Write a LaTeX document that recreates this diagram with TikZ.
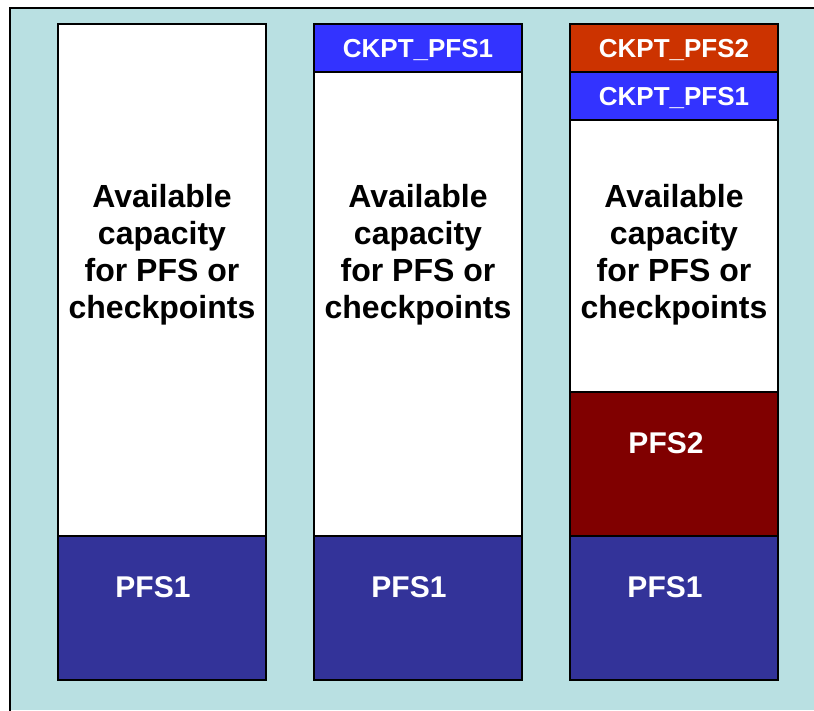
\documentclass[tikz,border=0pt]{standalone}
\usepackage{fontspec}
\setmainfont{Liberation Sans}
\usetikzlibrary{positioning}

\definecolor{framecyan}{RGB}{185,224,226}
\definecolor{pfsnavy}{HTML}{333399}
\definecolor{pfsmaroon}{HTML}{800000}
\definecolor{ckptblue}{HTML}{3333FF}
\definecolor{ckptrust}{HTML}{CC3300}

\tikzset{
  seg/.style={draw, line width=2.5pt, minimum width=208pt, inner sep=0pt, outer sep=0pt},
  freetext/.style={font=\bfseries\fontsize{32}{37}\selectfont, align=center},
  ckpttext/.style={font=\bfseries\fontsize{26}{30}\selectfont, text=white, text depth=0pt},
  pfstext/.style={font=\bfseries\fontsize{30}{34}\selectfont, text=white}
}

\begin{document}
\begin{tikzpicture}[x=1pt, y=1pt]
  \useasboundingbox (0,0) rectangle (814,710);
  % Frame
  \fill[framecyan] (10,0) rectangle (814,702);
  \draw[line width=2.5pt, line cap=rect] (10,0) -- (10,702) -- (814,702);

  % Node 1: one file system
  \node[seg, fill=pfsnavy, minimum height=144pt] (pfsonea) at (162,102) {};
  \node[seg, fill=white, minimum height=512pt, above=0pt of pfsonea] (freea) {};
  \node[pfstext] (pfsonealabel) at (153,123) {PFS1};
  \node[freetext] (freealabel) at (162,455) {Available\\capacity\\for PFS or\\checkpoints};

  % Node 2: file system plus its checkpoints
  \node[seg, fill=pfsnavy, minimum height=144pt] (pfsoneb) at (418,102) {};
  \node[seg, fill=white, minimum height=464pt, above=0pt of pfsoneb] (freeb) {};
  \node[seg, fill=ckptblue, minimum height=48pt, above=0pt of freeb] (ckptoneb) {};
  \node[pfstext] (pfsoneblabel) at (409,123) {PFS1};
  \node[freetext] (freeblabel) at (418,455) {Available\\capacity\\for PFS or\\checkpoints};
  \node[ckpttext] (ckptoneblabel) at (ckptoneb.center) {CKPT\_PFS1};

  % Node 3: two file systems with checkpoints
  \node[seg, fill=pfsnavy, minimum height=144pt] (pfsonec) at (674,102) {};
  \node[seg, fill=pfsmaroon, minimum height=144pt, above=0pt of pfsonec] (pfstwoc) {};
  \node[seg, fill=white, minimum height=272pt, above=0pt of pfstwoc] (freec) {};
  \node[seg, fill=ckptblue, minimum height=48pt, above=0pt of freec] (ckptonec) {};
  \node[seg, fill=ckptrust, minimum height=48pt, above=0pt of ckptonec] (ckpttwoc) {};
  \node[pfstext] (pfsoneclabel) at (665,123) {PFS1};
  \node[pfstext] (pfstwoclabel) at (666,267) {PFS2};
  \node[freetext] (freeclabel) at (674,455) {Available\\capacity\\for PFS or\\checkpoints};
  \node[ckpttext] (ckptoneclabel) at (ckptonec.center) {CKPT\_PFS1};
  \node[ckpttext] (ckpttwoclabel) at (ckpttwoc.center) {CKPT\_PFS2};
\end{tikzpicture}
\end{document}
